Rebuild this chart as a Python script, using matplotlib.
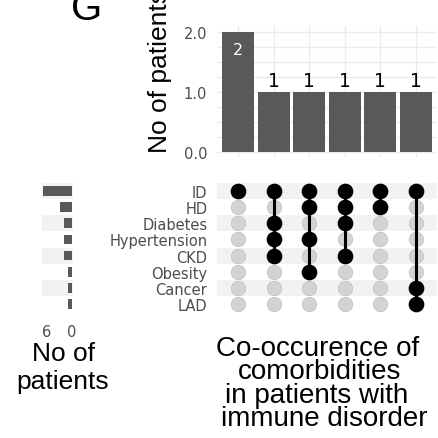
import matplotlib
matplotlib.use('Agg')
import numpy as np
import matplotlib.pyplot as plt

plt.rcParams.update({'font.family': 'DejaVu Sans', 'font.size': 10.5})

sets = ['ID', 'HD', 'Diabetes', 'Hypertension', 'CKD', 'Obesity', 'Cancer', 'LAD']
set_sizes = [7, 3, 2, 2, 2, 1, 1, 1]
intersections = [
    ['ID'],
    ['ID', 'Diabetes', 'Hypertension', 'CKD'],
    ['ID', 'HD', 'Hypertension', 'Obesity'],
    ['ID', 'HD', 'Diabetes', 'CKD'],
    ['ID', 'HD'],
    ['ID', 'Cancer', 'LAD'],
]
counts = [2, 1, 1, 1, 1, 1]
size_ticks = [6, 0]
count_ticks = [0.0, 1.0, 2.0]
title_lines = ['Co-occurence of', 'comorbidities', 'in patients with', 'immune disorder']

BAR = '#595959'
TXT = '#4D4D4D'
GRID = '#EBEBEB'
STRIPE = '#F2F2F2'
DOT_OFF = '#D3D3D3'
TITLE_FONT = 'Liberation Sans'

W, H = 438, 439
fig = plt.figure(figsize=(W / 100, H / 100), dpi=100)


def box(l, t, r, b):
    return [l / W, 1 - b / H, (r - l) / W, (b - t) / H]


n_int = len(counts)
n_sets = len(sets)
xs = np.arange(1, n_int + 1)
rows = np.arange(n_sets)

# intersection size bars
ax_top = fig.add_axes(box(217, 27, 437, 158))
ax_top.bar(xs, counts, width=0.9, color=BAR, zorder=3)
ax_top.set_xlim(0.4, n_int + 0.6)
ax_top.set_ylim(-0.08, 2.1)
for y in np.arange(0, 2.01, 0.25):
    ax_top.axhline(y, color=GRID, lw=1, zorder=0)
for x in xs:
    ax_top.axvline(x, color=GRID, lw=1, zorder=0)
ax_top.set_yticks(count_ticks)
ax_top.set_yticklabels(['%.1f' % v for v in count_ticks], color=TXT)
ax_top.set_xticks([])
ax_top.tick_params(axis='y', length=0, pad=7)
for s in ax_top.spines.values():
    s.set_visible(False)
top = max(counts)
for x, c in zip(xs, counts):
    if c == top:
        ax_top.annotate(str(c), (x, c), xytext=(0, -7), textcoords='offset points',
                        ha='center', va='top', color='white', fontsize=11.5, zorder=4)
    else:
        ax_top.annotate(str(c), (x, c), xytext=(0, 1.5), textcoords='offset points',
                        ha='center', va='bottom', color='black', fontsize=13.5, zorder=4)

# matrix
ax_m = fig.add_axes(box(217, 184, 437, 313))
ax_m.set_xlim(0.4, n_int + 0.6)
ax_m.set_ylim(n_sets - 0.5, -0.5)
for r in rows[::2]:
    ax_m.axhspan(r - 0.5, r + 0.5, color=STRIPE, lw=0, zorder=0)
for x, members in zip(xs, intersections):
    on = [sets.index(m) for m in members]
    off = [r for r in rows if r not in on]
    ax_m.scatter([x] * len(off), off, s=108, color=DOT_OFF, edgecolor='#BEBEBE', lw=0.5, zorder=2)
    ax_m.plot([x, x], [min(on), max(on)], color='black', lw=2.2, zorder=3, solid_capstyle='butt')
    ax_m.scatter([x] * len(on), on, s=128, color='black', lw=0, zorder=4)
ax_m.set_yticks(rows)
ax_m.set_yticklabels(sets, color=TXT)
ax_m.set_xticks([])
ax_m.tick_params(axis='y', length=0, pad=7)
for s in ax_m.spines.values():
    s.set_visible(False)

# set size bars
ax_s = fig.add_axes(box(42, 184, 73, 313))
for r in rows[::2]:
    ax_s.axhspan(r - 0.5, r + 0.5, color=STRIPE, lw=0, zorder=0)
ax_s.barh(rows, set_sizes, height=0.6, color=BAR, zorder=3)
ax_s.set_xlim(7.23, -0.24)
ax_s.set_ylim(n_sets - 0.5, -0.5)
ax_s.set_xticks(size_ticks)
ax_s.set_xticklabels([str(v) for v in size_ticks], color=TXT)
ax_s.set_yticks([])
ax_s.tick_params(axis='x', length=0, pad=9)
for s in ax_s.spines.values():
    s.set_visible(False)

# titles
fig.text(71 / W, 1 - 20 / H, 'G', family=TITLE_FONT, fontsize=29, ha='left', va='baseline')
fig.text(160 / W, 1 - 153 / H, 'No of patients', family=TITLE_FONT, fontsize=19,
         rotation=90, ha='center', va='bottom')
fig.text(63 / W, 1 - 389 / H, 'No of\npatients', family=TITLE_FONT, fontsize=19,
         ha='center', va='baseline', multialignment='center', linespacing=1.22)
# bottom title, one text per line
centers = [318, 320, 317, 324]
for i, (line, cx) in enumerate(zip(title_lines, centers)):
    fig.text(cx / W, 1 - (356 + 23.3 * i) / H, line, family=TITLE_FONT, fontsize=20,
             ha='center', va='baseline')

fig.savefig('out.png', dpi=100)
